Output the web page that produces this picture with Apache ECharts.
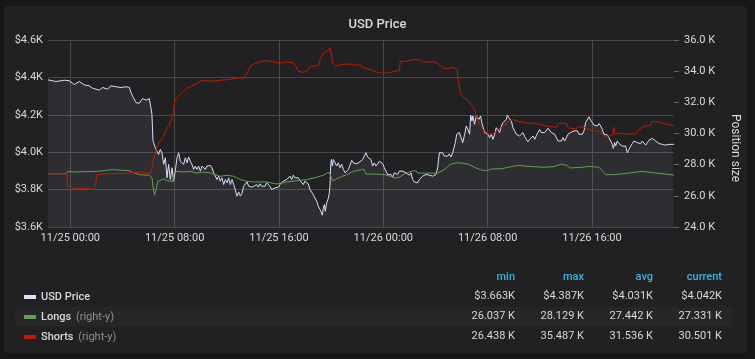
<!DOCTYPE html>
<html><head><meta charset="utf-8">
<script src="https://cdn.jsdelivr.net/npm/echarts@6/dist/echarts.min.js"></script>
<style>html,body{margin:0;padding:0;background:#161719;}#main{width:755px;height:359px;}</style>
</head><body><div id="main"></div>
<script>
// x axis: hours from 11/25 00:00
const xMinHour = -1.71;
const xMaxHour = 46.29;
const xTickHours = [0, 8, 16, 24, 32, 40];
const xTickLabels = ['11/25 00:00', '11/25 08:00', '11/25 16:00', '11/26 00:00', '11/26 08:00', '11/26 16:00'];

const priceHours = [-1.71,-1.36,-1.10,-0.46,-0.08,0.31,0.69,1.07,1.46,1.71,1.97,2.23,2.48,2.86,3.12,3.50,3.89,4.27,4.53,4.65,4.83,5.04,5.17,5.29,5.55,5.81,6.06,6.19,
6.26,6.34,6.39,6.52,6.64,6.77,6.90,7.03,7.16,7.29,7.41,7.54,7.67,7.80,7.92,8.05,8.18,8.31,8.43,8.56,8.69,8.82,8.95,9.07,9.20,9.33,9.46,9.59,9.71,9.84,9.97,10.10,10.23,10.35,10.48,10.61,10.74,10.86,10.99,11.12,11.25,11.38,11.50,11.63,11.76,11.89,12.02,12.14,12.27,12.40,12.53,12.65,12.78,12.91,13.04,13.17,13.29,13.42,13.55,13.68,13.81,13.93,
14.03,14.29,14.42,14.54,14.67,14.80,14.93,15.05,15.18,15.31,15.44,15.57,15.69,15.82,15.95,16.08,16.20,16.33,16.46,16.59,16.71,16.84,16.97,17.10,17.23,17.36,17.48,17.61,17.74,17.87,17.99,18.12,18.25,18.38,18.50,18.63,18.76,18.89,19.02,19.15,19.27,19.32,19.40,19.48,19.55,19.66,19.79,19.86,19.91,19.97,20.02,20.09,20.17,20.30,20.42,20.55,20.68,20.81,20.94,21.07,21.19,21.32,21.45,21.58,21.70,21.83,21.96,
22.09,22.22,22.29,22.42,22.54,22.67,22.80,22.93,23.05,23.18,23.31,23.44,23.57,23.69,23.82,23.95,24.08,24.20,24.33,24.46,24.59,24.72,24.84,24.97,25.10,25.23,25.36,25.49,25.61,25.74,25.87,26.00,26.12,26.25,26.38,26.51,26.63,26.76,26.89,27.02,27.15,27.28,27.40,27.53,27.66,27.79,27.91,28.04,28.17,28.22,28.30,28.43,28.55,28.68,28.81,28.94,29.06,29.19,29.32,29.45,29.52,29.63,29.70,29.83,29.96,
30.09,30.24,30.36,30.49,30.62,30.70,30.80,30.87,31.00,31.13,31.26,31.34,31.46,31.57,31.67,31.77,31.90,32.03,32.15,32.28,32.41,32.54,32.66,32.79,32.92,33.05,33.18,33.30,33.43,33.51,33.61,33.69,33.82,33.94,34.07,34.20,34.33,34.45,34.58,34.71,34.84,34.97,35.09,35.22,35.35,35.48,35.61,35.73,35.86,35.99,36.12,36.25,36.37,36.50,36.63,36.76,36.88,37.01,37.14,37.27,37.40,37.52,37.65,37.78,37.91,
38.04,38.16,38.24,38.36,38.49,38.62,38.75,38.88,39.00,39.13,39.26,39.39,39.51,39.64,39.77,39.90,40.03,40.15,40.28,40.41,40.54,40.67,40.79,40.92,41.05,41.18,41.30,41.43,41.56,41.64,41.74,41.82,41.94,42.07,42.20,42.33,42.46,42.58,42.71,42.84,42.97,43.09,43.22,43.35,43.48,43.61,43.73,43.86,43.99,44.12,44.25,44.37,44.50,44.63,44.76,44.88,45.01,45.14,45.27,45.40,45.52,45.65,45.78,45.91,46.04,46.16,46.29];
const priceValues = [4387,4382,4378,4385,4382,4362,4378,4360,4355,4342,4337,4332,4346,4337,4355,4350,4346,4350,4346,4319,4292,4265,4274,4262,4287,4278,4287,4278,
4203,4063,4051,4024,4033,3988,4015,3997,3935,3970,3863,3935,3854,3917,3845,3899,3970,3997,3952,3961,3935,3970,3943,3974,3952,3935,3908,3926,3908,3926,3899,3926,3935,3908,3926,3931,3929,3917,3890,3881,3854,3872,3845,3863,3827,3854,3836,3863,3827,3854,3827,3800,3765,3788,3765,3782,3818,3827,3841,3818,3827,3813,
3820,3827,3813,3831,3818,3827,3818,3836,3827,3818,3800,3797,3809,3806,3813,3827,3818,3845,3841,3854,3845,3872,3854,3877,3863,3854,3863,3849,3854,3827,3845,3836,3831,3800,3791,3773,3755,3738,3711,3693,3675,3663,3702,3720,3684,3729,3755,3782,3818,3935,3961,3926,3961,3943,3926,3943,3917,3935,3908,3890,3899,3908,3908,3956,3943,3935,3938,
3929,3949,3952,3961,3979,3997,3974,3984,3961,3926,3943,3926,3938,3952,3952,3938,3917,3899,3881,3872,3881,3867,3890,3899,3881,3899,3908,3899,3904,3890,3899,3877,3890,3854,3841,3849,3836,3854,3863,3872,3863,3881,3872,3877,3867,3872,3863,3881,3917,3952,3997,3988,3997,3979,3988,3979,3991,3974,3997,4006,4051,4096,4087,4105,4078,
4051,4096,4140,4122,4096,4199,4167,4194,4149,4194,4199,4176,4194,4153,4131,4105,4114,4096,4078,4096,4069,4096,4131,4122,4105,4140,4158,4149,4176,4199,4185,4176,4167,4131,4114,4096,4105,4087,4096,4105,4083,4069,4056,4069,4078,4087,4069,4087,4105,4122,4105,4114,4105,4114,4128,4131,4105,4114,4096,4087,4060,4069,4060,4078,4060,
4069,4096,4087,4105,4096,4114,4105,4114,4096,4105,4096,4114,4158,4167,4189,4171,4158,4145,4135,4140,4153,4140,4122,4096,4087,4092,4078,4060,4042,4020,4051,4033,4060,4046,4042,4033,4024,4033,3997,4015,4033,4046,4060,4069,4051,4060,4046,4060,4051,4038,4051,4064,4074,4074,4064,4060,4051,4046,4051,4042,4046,4038,4046,4042,4038,4042,4042];

// Longs / Shorts in thousands (right axis)
const longsHours = [-1.71,-0.33,-0.20,0.18,1.97,2.10,3.25,4.53,4.78,5.29,6.06,6.27,6.39,6.47,6.59,6.70,6.90,7.16,7.41,7.87,7.97,8.18,8.69,9.20,9.71,10.23,10.74,11.12,11.50,12.02,12.53,13.04,13.55,14.06,15.05,15.82,16.59,17.36,18.12,18.89,19.40,19.66,19.86,20.12,20.68,21.19,21.70,22.32,22.54,22.67,23.31,24.08,24.59,24.84,25.23,25.61,26.12,26.51,26.63,28.17,28.68,29.19,29.70,30.49,31.00,31.51,31.90,32.28,33.05,34.33,35.09,36.37,37.14,37.65,38.04,38.36,39.26,39.77,40.54,40.79,41.05,41.69,41.76,41.82,42.84,43.86,44.88,45.65,46.29];
const longsValues = [27.42,27.42,27.57,27.53,27.57,27.68,27.68,27.61,27.51,27.36,27.32,27.14,26.29,26.04,26.12,26.93,26.97,27.10,26.97,26.93,27.53,27.57,27.53,27.57,27.46,27.53,27.46,27.36,27.25,27.32,27.25,27.04,26.93,26.89,26.89,26.76,26.89,26.97,27.04,27.19,27.32,27.46,27.49,26.97,27.19,27.36,27.57,27.68,27.68,27.40,27.40,27.36,27.25,27.14,27.19,27.40,27.57,27.61,27.46,27.46,27.68,28.04,28.13,28.04,27.83,27.66,27.61,27.72,27.74,27.96,27.89,27.83,27.89,28.04,27.96,27.79,27.83,27.89,27.83,27.61,27.36,27.36,27.46,27.36,27.46,27.57,27.46,27.40,27.33];

const shortsHours = [-1.71,-0.28,-0.20,0.18,1.71,1.92,2.02,2.48,3.25,4.53,5.04,5.17,5.42,6.19,6.32,6.39,6.52,6.64,6.77,6.90,7.16,7.41,7.67,7.80,7.92,8.00,8.18,8.43,8.69,8.95,9.33,9.71,9.97,10.23,10.74,11.25,12.02,12.78,13.34,13.55,13.81,14.06,14.54,15.05,15.57,16.08,16.59,17.10,17.30,17.48,17.87,18.12,18.33,18.63,19.02,19.15,19.40,19.61,19.79,19.91,19.99,20.12,20.30,20.68,21.19,21.70,22.09,22.20,22.29,22.67,23.05,23.44,23.82,24.33,24.84,25.23,25.30,25.74,26.25,26.76,27.02,27.91,28.30,28.55,28.94,29.32,29.65,29.83,29.96,30.24,30.49,30.75,31.00,31.13,31.39,31.64,32.03,32.41,32.79,33.18,33.56,33.94,34.33,35.09,35.86,36.63,37.27,37.40,38.04,38.18,38.75,39.13,39.51,40.03,40.54,41.05,41.56,41.69,41.76,42.07,42.58,43.35,43.61,44.00,44.50,44.58,45.14,45.65,46.29];
const shortsValues = [27.42,27.42,26.61,26.50,26.44,26.61,27.36,27.40,27.42,27.46,27.53,27.61,27.51,27.46,28.04,28.32,28.75,28.86,29.39,29.50,29.82,30.35,30.67,30.99,31.32,32.06,32.28,32.53,32.71,32.92,33.03,33.24,33.35,33.40,33.35,33.40,33.45,33.56,33.56,33.88,34.31,34.46,34.59,34.67,34.59,34.52,34.59,34.52,34.31,33.99,33.93,33.99,34.25,34.31,34.37,34.74,35.17,35.27,35.32,35.49,35.17,34.52,34.31,34.42,34.46,34.42,34.37,34.50,34.31,34.16,34.10,33.95,33.88,33.88,33.99,34.03,34.63,34.63,34.74,34.74,34.59,34.59,34.42,34.20,34.16,34.25,34.10,32.92,32.49,32.28,32.11,31.85,31.53,31.17,30.57,30.25,29.97,29.97,30.25,30.46,30.74,30.89,30.78,30.67,30.61,30.46,30.40,30.65,30.65,30.35,30.31,30.46,30.35,30.18,30.14,29.82,29.88,30.40,29.93,30.03,29.97,29.97,30.25,30.46,30.52,30.78,30.74,30.61,30.50];

const seriesNames = ['USD Price', 'Longs', 'Shorts'];
const statHeaders = ['min', 'max', 'avg', 'current'];
const priceStats = ['$3.663K', '$4.387K', '$4.031K', '$4.042K'];
const longsStats = ['26.037 K', '28.129 K', '27.442 K', '27.331 K'];
const shortsStats = ['26.438 K', '35.487 K', '31.536 K', '30.501 K'];

function zip(a, b) { return a.map((t, i) => [t, b[i]]); }

const chart = echarts.init(document.getElementById('main'), null, { renderer: 'canvas' });
const FONT = 'Roboto, "Noto Sans", sans-serif';
const TXT = '#d8d9da';
const GRID = '#48484b';

const statCols = [515, 584, 653, 722];
const rowY = [296, 316, 336];
const statRows = [priceStats, longsStats, shortsStats];
const graphics = [
  { type: 'rect', z: -10, shape: { x: 4, y: 6, width: 743, height: 347, r: 3 }, style: { fill: '#212124' } },
  { type: 'rect', z: -9, shape: { x: 15, y: 306.5, width: 717, height: 20 }, style: { fill: '#262629' } },
  { type: 'text', x: 735, y: 148, rotation: -Math.PI / 2,
    style: { text: 'Position size', fill: TXT, font: '12px ' + FONT, textAlign: 'center', textVerticalAlign: 'middle' } }
];
statHeaders.forEach((h, i) => {
  graphics.push({ type: 'text', x: statCols[i], y: 277,
    style: { text: h, fill: '#33b5e5', font: '500 11px ' + FONT, textAlign: 'right', textVerticalAlign: 'middle' } });
});
statRows.forEach((row, r) => {
  row.forEach((v, i) => {
    graphics.push({ type: 'text', x: statCols[i], y: rowY[r],
      style: { text: v, fill: TXT, font: '11px ' + FONT, textAlign: 'right', textVerticalAlign: 'middle' } });
  });
});

chart.setOption({
  backgroundColor: '#161719',
  animation: false,
  textStyle: { fontFamily: FONT },
  title: { text: 'USD Price', left: 'center', top: 13,
    textStyle: { color: TXT, fontSize: 13, fontWeight: 500, fontFamily: FONT } },
  grid: { left: 48, right: 81, top: 40, bottom: 132 },
  legend: {
    orient: 'vertical', left: 19, top: 282, itemWidth: 12, itemHeight: 4, itemGap: 0,
    icon: 'rect', selectedMode: false, data: seriesNames,
    textStyle: { color: TXT, fontSize: 11, fontWeight: 500, fontFamily: FONT, lineHeight: 20,
      rich: { r: { color: '#8e8e8e', fontSize: 11, fontWeight: 'normal', lineHeight: 20, padding: [0, 0, 0, 2] } } },
    formatter: name => name === seriesNames[0] ? name : name + ' {r|(right-y)}'
  },
  graphic: graphics,
  xAxis: {
    type: 'value', min: xMinHour, max: xMaxHour,
    axisLine: { show: false },
    axisTick: { show: false, customValues: xTickHours },
    axisLabel: { customValues: xTickHours, color: TXT, fontSize: 11, margin: 6,
      formatter: v => { const i = xTickHours.findIndex(h => Math.abs(h - v) < 1e-6); return i >= 0 ? xTickLabels[i] : ''; } },
    splitLine: { show: true, lineStyle: { color: GRID, width: 1 } }
  },
  yAxis: [
    { type: 'value', min: 3600, max: 4600, interval: 200,
      axisLine: { show: false }, axisTick: { show: false },
      axisLabel: { color: TXT, fontSize: 11, margin: 5, formatter: v => '$' + (v / 1000).toFixed(1) + 'K' },
      splitLine: { show: true, lineStyle: { color: GRID, width: 1 } } },
    { type: 'value', min: 24, max: 36, interval: 2, position: 'right',
      axisLine: { show: false },
      axisTick: { show: true, length: 5, lineStyle: { color: '#666' } },
      axisLabel: { color: TXT, fontSize: 11, margin: 10, formatter: v => v.toFixed(1) + ' K' },
      splitLine: { show: false } }
  ],
  series: [
    { name: seriesNames[0], type: 'line', yAxisIndex: 0, data: zip(priceHours, priceValues),
      showSymbol: false, symbol: 'none', color: '#dcdcf6',
      lineStyle: { width: 1, color: '#dcdcf6' },
      areaStyle: { color: 'rgba(220,220,246,0.1)' } },
    { name: seriesNames[1], type: 'line', yAxisIndex: 1, data: zip(longsHours, longsValues),
      showSymbol: false, symbol: 'none', color: '#629e51', lineStyle: { width: 1, color: '#629e51' } },
    { name: seriesNames[2], type: 'line', yAxisIndex: 1, data: zip(shortsHours, shortsValues),
      showSymbol: false, symbol: 'none', color: '#bf1b00', lineStyle: { width: 1, color: '#bf1b00' } }
  ]
});
</script>
</body></html>
